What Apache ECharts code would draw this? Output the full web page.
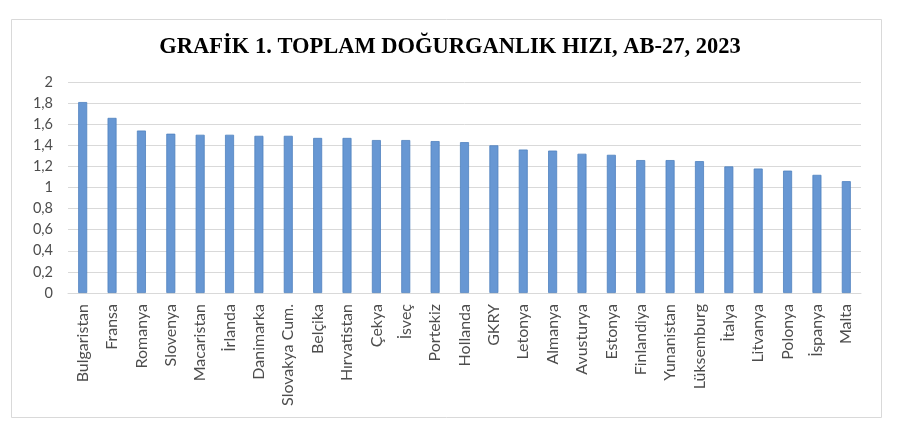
<!DOCTYPE html>
<html>
<head>
<meta charset="utf-8">
<script src="https://cdn.jsdelivr.net/npm/echarts@6/dist/echarts.min.js"></script>
<style>
  html, body { margin: 0; padding: 0; background: #fff; }
  #chart { width: 900px; height: 438px; }
</style>
</head>
<body>
<div id="chart"></div>
<script>
// Toplam doğurganlık hızı, AB-27, 2023
const countries = [
    'Bulgaristan', 'Fransa', 'Romanya', 'Slovenya', 'Macaristan', 'İrlanda',
    'Danimarka', 'Slovakya Cum.', 'Belçika', 'Hırvatistan', 'Çekya', 'İsveç',
    'Portekiz', 'Hollanda', 'GKRY', 'Letonya', 'Almanya', 'Avusturya',
    'Estonya', 'Finlandiya', 'Yunanistan', 'Lüksemburg', 'İtalya', 'Litvanya',
    'Polonya', 'İspanya', 'Malta'
];
const fertilityRates = [
    1.81, 1.66, 1.54, 1.51, 1.50, 1.50,
    1.49, 1.49, 1.47, 1.47, 1.45, 1.45,
    1.44, 1.43, 1.40, 1.36, 1.35, 1.32,
    1.31, 1.26, 1.26, 1.25, 1.20, 1.18,
    1.16, 1.12, 1.06
];
const titleText = 'GRAFİK 1. TOPLAM DOĞURGANLIK HIZI, AB-27, 2023';

const textColor = '#4d4d4d';
const gridColor = '#d9d9d9';
const labelFont = 'Lato, "Open Sans", sans-serif';

const chart = echarts.init(document.getElementById('chart'));

const option = {
    backgroundColor: '#ffffff',
    animation: false,
    title: {
        text: titleText,
        left: 'center',
        top: 31,
        textStyle: {
            fontFamily: '"Liberation Serif", "DejaVu Serif", serif',
            fontSize: 22.5,
            fontWeight: 'bold',
            color: '#000000'
        }
    },
    graphic: [{
        type: 'rect',
        shape: { x: 11.5, y: 19.5, width: 870, height: 398 },
        style: { fill: 'none', stroke: gridColor, lineWidth: 1 },
        silent: true
    }],
    grid: {
        left: 68,
        right: 39,
        top: 82,
        bottom: 145,
        containLabel: false
    },
    xAxis: {
        type: 'category',
        data: countries,
        axisLine: { lineStyle: { color: gridColor, width: 1 } },
        axisTick: { show: false },
        axisLabel: {
            interval: 0,
            rotate: 90,
            margin: 11,
            color: textColor,
            fontFamily: labelFont,
            fontSize: 16
        }
    },
    yAxis: {
        type: 'value',
        min: 0,
        max: 2,
        interval: 0.2,
        axisLine: { show: false },
        axisTick: { show: false },
        axisLabel: {
            color: textColor,
            fontFamily: labelFont,
            fontSize: 14.5,
            margin: 15,
            formatter: (v) => {
                const r = Math.round(v * 10) / 10;
                return Number.isInteger(r) ? String(r) : r.toFixed(1).replace('.', ',');
            }
        },
        splitLine: { lineStyle: { color: gridColor, width: 1 } }
    },
    series: [{
        name: 'TDH',
        type: 'bar',
        data: fertilityRates,
        barWidth: 9,
        itemStyle: {
            color: '#6797d3',
            borderColor: '#4f82bf',
            borderWidth: 0.8
        },
        silent: true
    }]
};

chart.setOption(option);
</script>
</body>
</html>
